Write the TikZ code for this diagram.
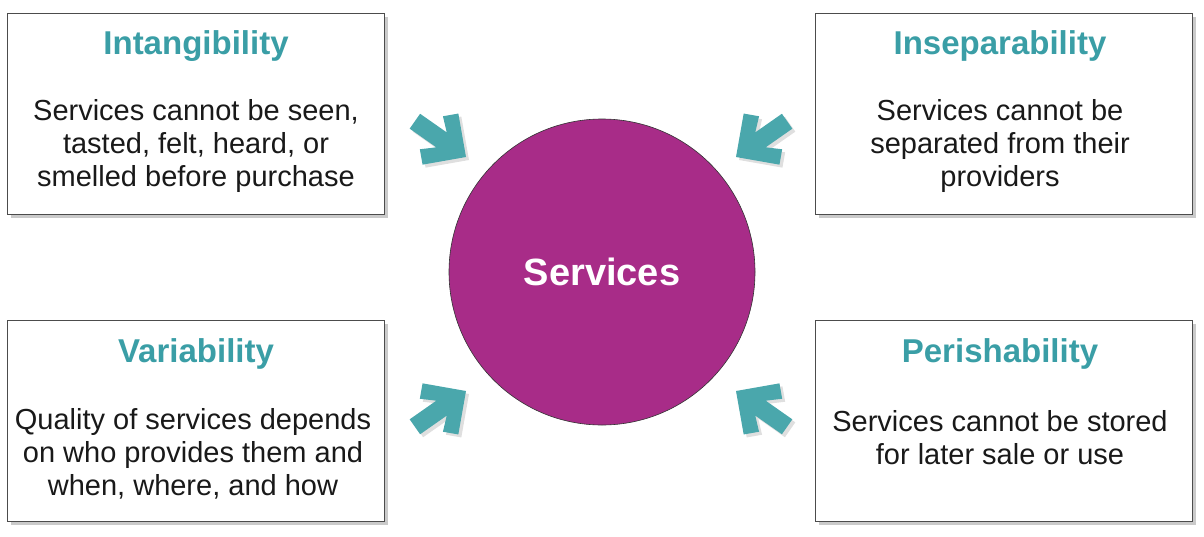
\documentclass[tikz,border=0pt]{standalone}
\usepackage{fontspec}
\setmainfont{Liberation Sans}
\usetikzlibrary{shadows}
\definecolor{teal1}{HTML}{4AA7AC}
\definecolor{ttl}{HTML}{3A9EA6}
\definecolor{mag}{HTML}{A82C88}
\begin{document}
\begin{tikzpicture}[x=1pt,y=-1pt,
 box/.style={draw=black!70,line width=0.6pt,fill=white,minimum width=377pt,minimum height=201pt,anchor=north west,
   drop shadow={shadow xshift=4pt,shadow yshift=-4pt,opacity=0.35,fill=black!60}},
 ttl/.style={text=ttl,font=\fontsize{33}{36}\selectfont\bfseries},
 body/.style={align=center,font=\fontsize{29}{33}\selectfont,text=black!90},
 arr/.pic={\fill[teal1,scale=1.3,drop shadow={shadow xshift=3pt,shadow yshift=-3pt,opacity=0.25}]
   (0,0)--(-24,24)--(-32.5,15.5)--(-23,7)--(-48,7)--(-48,-7)--(-23,-7)--(-32.5,-15.5)--(-24,-24)--cycle;}]
\useasboundingbox (0,0) rectangle (1204,536);
\node[box] (b1) at (7,13) {};
\node[box] (b2) at (815,13) {};
\node[box] (b3) at (7,320) {};
\node[box] (b4) at (815,320) {};
\node[ttl] (t1) at (196,46) {Intangibility};
\node[ttl] (t2) at (1000,46) {Inseparability};
\node[ttl] (t3) at (196,354) {Variability};
\node[ttl] (t4) at (1000,354) {Perishability};
\node[body] (d1) at (196,146) {Services cannot be seen,\\tasted, felt, heard, or\\smelled before purchase};
\node[body] (d2) at (1000,146) {Services cannot be\\separated from their\\providers};
\node[body] (d3) at (193,454) {Quality of services depends\\on who provides them and\\when, where, and how};
\node[body] (d4) at (1000,438) {Services cannot be stored\\for later sale or use};
\node[circle,draw=black!80,line width=0.6pt,fill=mag,minimum size=306pt,text=white,font=\fontsize{38}{40}\selectfont\bfseries] (c) at (602,272) {Services};
\pic[rotate=-35] at (466,157) {arr};
\pic[rotate=-145] at (736,157) {arr};
\pic[rotate=35] at (466,391) {arr};
\pic[rotate=145] at (736,391) {arr};
\end{tikzpicture}
\end{document}
